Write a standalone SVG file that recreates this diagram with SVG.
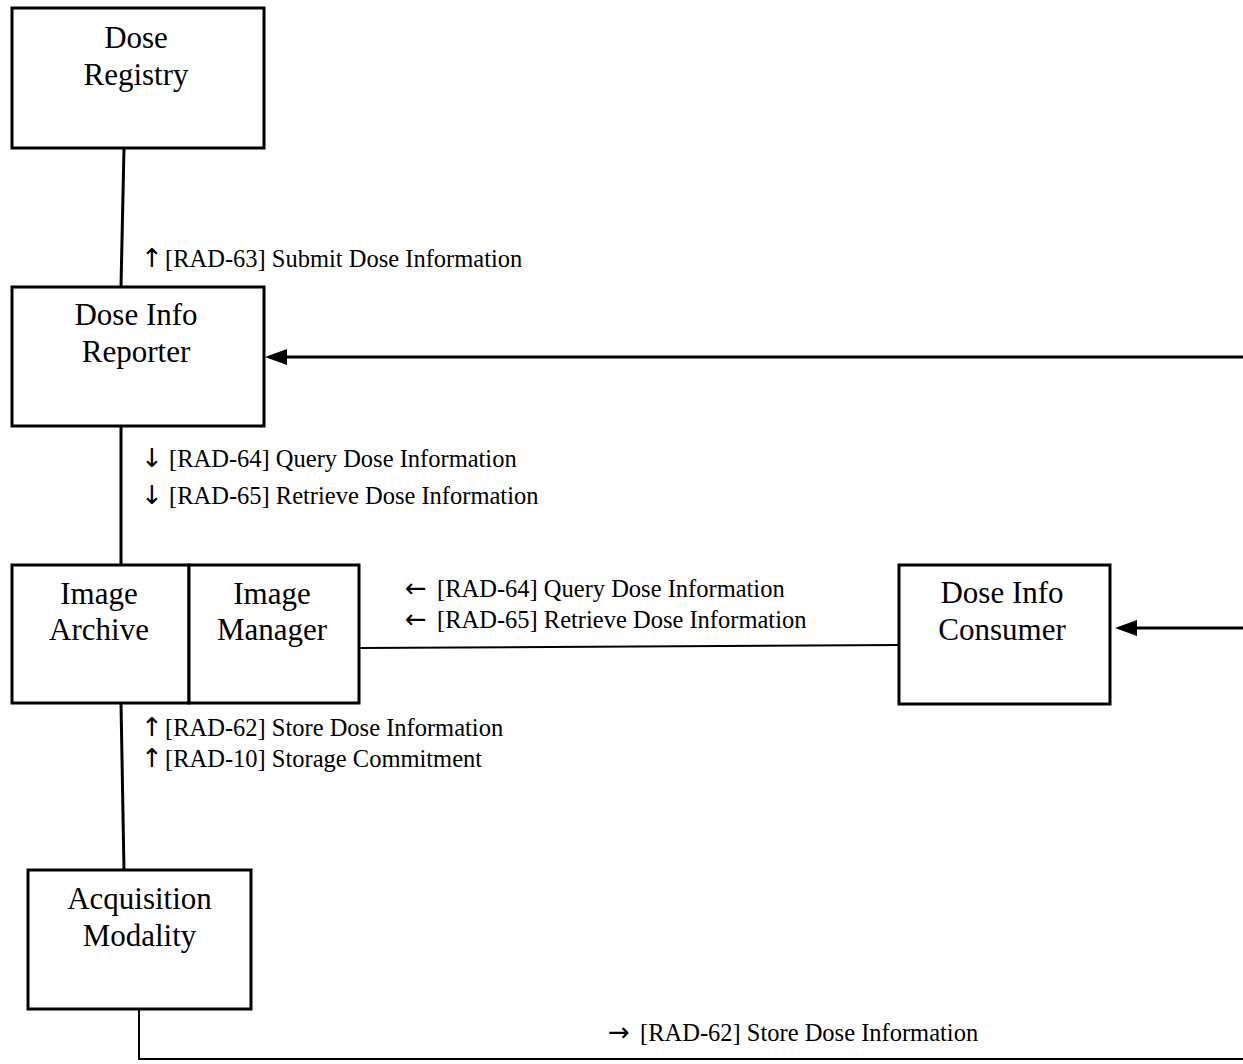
<svg xmlns="http://www.w3.org/2000/svg" width="1243" height="1064" viewBox="0 0 1243 1064">
<style>
.box{fill:#fff;stroke:#000;stroke-width:3}
.nl{font-family:"Liberation Serif","Times New Roman",serif;font-size:31px;text-anchor:middle;fill:#000}
.el{font-family:"Liberation Serif","Times New Roman",serif;font-size:24.5px;fill:#000}
.ar{font-family:"DejaVu Sans",sans-serif;font-size:26px}
.c{fill:none;stroke:#000;stroke-width:3}
.t{fill:none;stroke:#000;stroke-width:2}
</style>
<rect width="1243" height="1064" fill="#fff"/>
<g id="connectors">
<line class="c" x1="124" y1="148" x2="121" y2="287"/>
<line class="c" x1="121" y1="426" x2="121" y2="565"/>
<line class="c" x1="121" y1="703" x2="124" y2="870"/>
<line class="t" x1="359" y1="648" x2="899" y2="645"/>
<path class="t" d="M139,1009 L139,1059 L1243,1059"/>
<line class="c" x1="1243" y1="357" x2="287" y2="357"/>
<path d="M265,357 L287,349 L287,365 Z" fill="#000"/>
<line class="c" x1="1243" y1="628" x2="1137" y2="628"/>
<path d="M1115,628 L1137,620 L1137,636 Z" fill="#000"/>
<text class="el" y="267"><tspan class="ar" x="141">↑</tspan><tspan x="165">[RAD-63] Submit Dose Information</tspan></text>
<text class="el" y="467"><tspan class="ar" x="141">↓</tspan><tspan x="169">[RAD-64] Query Dose Information</tspan></text>
<text class="el" y="504"><tspan class="ar" x="141">↓</tspan><tspan x="169">[RAD-65] Retrieve Dose Information</tspan></text>
<text class="el" y="597"><tspan class="ar" x="405">←</tspan><tspan x="437">[RAD-64] Query Dose Information</tspan></text>
<text class="el" y="628"><tspan class="ar" x="405">←</tspan><tspan x="437">[RAD-65] Retrieve Dose Information</tspan></text>
<text class="el" y="736"><tspan class="ar" x="141">↑</tspan><tspan x="165">[RAD-62] Store Dose Information</tspan></text>
<text class="el" y="767"><tspan class="ar" x="141">↑</tspan><tspan x="165">[RAD-10] Storage Commitment</tspan></text>
<text class="el" y="1041"><tspan class="ar" x="608">→</tspan><tspan x="640">[RAD-62] Store Dose Information</tspan></text>
</g>
<g id="dose-registry">
<rect class="box" x="12" y="8" width="252" height="140"/>
<text class="nl" x="136" y="48">Dose</text>
<text class="nl" x="136" y="85">Registry</text>
</g>
<g id="dose-info-reporter">
<rect class="box" x="12" y="287" width="252" height="139"/>
<text class="nl" x="136" y="325">Dose Info</text>
<text class="nl" x="136" y="362">Reporter</text>
</g>
<g id="image-archive">
<rect class="box" x="12" y="565" width="177" height="138"/>
<text class="nl" x="99" y="604">Image</text>
<text class="nl" x="99" y="640">Archive</text>
</g>
<g id="image-manager">
<rect class="box" x="189" y="565" width="170" height="138"/>
<text class="nl" x="272" y="604">Image</text>
<text class="nl" x="272" y="640">Manager</text>
</g>
<g id="dose-info-consumer">
<rect class="box" x="899" y="565" width="211" height="139"/>
<text class="nl" x="1002" y="603">Dose Info</text>
<text class="nl" x="1002" y="640">Consumer</text>
</g>
<g id="acquisition-modality">
<rect class="box" x="28" y="870" width="223" height="139"/>
<text class="nl" x="139.5" y="909">Acquisition</text>
<text class="nl" x="139.5" y="946">Modality</text>
</g>
</svg>
